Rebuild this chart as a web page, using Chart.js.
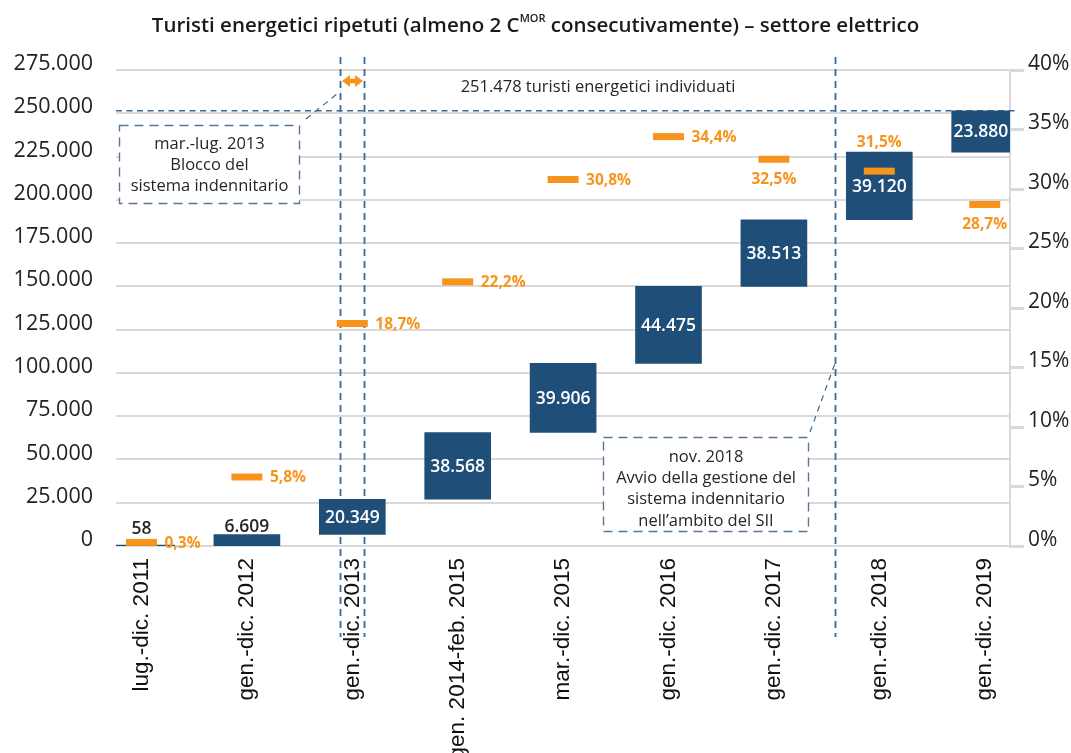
<!DOCTYPE html>
<html lang="it"><head><meta charset="utf-8">
<script src="https://cdn.jsdelivr.net/npm/chart.js@4.4.1/dist/chart.umd.min.js"></script>
<style>
html,body{margin:0;padding:0;background:#fff;}
#wrap{position:relative;width:1071px;height:753px;overflow:hidden;background:#fff;}
#title{position:absolute;left:0;top:10px;width:1071px;text-align:center;font-family:'Open Sans',sans-serif;font-weight:600;font-size:20.5px;color:#1a1a1a;white-space:nowrap;z-index:2;}
#title sup{font-size:11px;vertical-align:top;position:relative;top:0px;}
canvas{position:absolute;left:0;top:0;}
</style></head><body>
<div id="wrap">
<div id="title">Turisti energetici ripetuti (almeno 2 C<sup>MOR</sup> consecutivamente) – settore elettrico</div>
<canvas id="c" width="1071" height="753" style="width:1071px;height:753px"></canvas>
</div>
<script>
// ---- data ----
const categories = ['lug.-dic. 2011','gen.-dic. 2012','gen.-dic. 2013','gen. 2014-feb. 2015','mar.-dic. 2015','gen.-dic. 2016','gen.-dic. 2017','gen.-dic. 2018','gen.-dic. 2019'];
const newTourists = [58, 6609, 20349, 38568, 39906, 44475, 38513, 39120, 23880];
const sharePct = [0.3, 5.8, 18.7, 22.2, 30.8, 34.4, 32.5, 31.5, 28.7];
const leftTicks = [0, 25000, 50000, 75000, 100000, 125000, 150000, 175000, 200000, 225000, 250000, 275000];
const rightTicks = [0, 5, 10, 15, 20, 25, 30, 35, 40];
const blockPeriod2013 = [1.88, 2.11];   // mar.-lug. 2013 within the 2013 column (x units)
const siiStart2018 = 6.58;              // nov. 2018 marker (x units)
const note2013 = ['mar.-lug. 2013', 'Blocco del', 'sistema indennitario'];
const note2018 = ['nov. 2018', 'Avvio della gestione del', 'sistema indennitario', 'nell\u2019ambito del SII'];
const totalCaption = 'turisti energetici individuati';

// placement of the percentage labels (style only)
const pctLabelSide = ['right','right','right','right','right','right','below','above','below'];

// ---- helpers ----
const fmtIt = v => String(Math.round(v)).replace(/\B(?=(\d{3})+(?!\d))/g, '.');
const fmtPct = v => v.toFixed(1).replace('.', ',') + '%';

const floating = [];
let running = 0;
newTourists.forEach((v, i) => { floating.push({x: i, y: [running, running + v]}); running += v; });
const totalTourists = running;

const BLUE = '#1f4e79', ORANGE = '#f7941d', DASH = '#3d6890', GRID = '#d9d9d9';
const SANS = "'Open Sans', sans-serif";

const annotations = {
  id: 'annotations',
  beforeDatasetsDraw(chart) {
    const {ctx, chartArea: ca, scales} = chart;
    const x = scales.x, y = scales.y;
    ctx.save();
    // horizontal total line
    const yt = y.getPixelForValue(totalTourists);
    ctx.strokeStyle = DASH; ctx.lineWidth = 1.6; ctx.setLineDash([6, 4.5]);
    ctx.beginPath(); ctx.moveTo(ca.left, yt); ctx.lineTo(ca.right + 5, yt); ctx.stroke();
    // vertical lines
    ctx.lineWidth = 1.8; ctx.setLineDash([7, 5]);
    const vx = [blockPeriod2013[0], blockPeriod2013[1], siiStart2018].map(v => Math.round(x.getPixelForValue(v)) + 0.5);
    vx.forEach(px => { ctx.beginPath(); ctx.moveTo(px, ca.top - 13); ctx.lineTo(px, ca.bottom + 91); ctx.stroke(); });
    // connectors
    ctx.lineWidth = 1.2; ctx.setLineDash([6, 5]);
    ctx.beginPath(); ctx.moveTo(306, 119); ctx.lineTo(vx[0], 91); ctx.stroke();
    ctx.beginPath(); ctx.moveTo(810, 432); ctx.lineTo(vx[2], 362); ctx.stroke();
    // boxes
    const box = (l, t, r, b, lines, cx, y0, lh) => {
      ctx.setLineDash([]); ctx.fillStyle = '#fff'; ctx.fillRect(l, t, r - l, b - t);
      ctx.setLineDash([9, 6]); ctx.strokeStyle = '#56799a'; ctx.lineWidth = 1.4;
      ctx.strokeRect(l, t, r - l, b - t);
      ctx.fillStyle = '#262626'; ctx.font = '16.5px ' + SANS; ctx.textAlign = 'center'; ctx.textBaseline = 'middle';
      lines.forEach((s, i) => ctx.fillText(s, cx, y0 + i * lh));
    };
    box(119.5, 125.5, 299.5, 203.5, note2013, 209.5, 144, 21);
    box(603.5, 437.5, 808.5, 531.5, note2018, 706, 457, 21.3);
    // total caption
    ctx.fillStyle = '#262626'; ctx.font = '16.5px ' + SANS; ctx.textAlign = 'center'; ctx.textBaseline = 'middle';
    ctx.fillText(fmtIt(totalTourists) + ' ' + totalCaption, 598, 87);
    // orange double arrow
    const ay = 81, a0 = vx[0] + 1.5, a1 = vx[1] - 1.5;
    ctx.setLineDash([]); ctx.strokeStyle = ORANGE; ctx.fillStyle = ORANGE; ctx.lineWidth = 4.5;
    ctx.beginPath(); ctx.moveTo(a0 + 6, ay); ctx.lineTo(a1 - 6, ay); ctx.stroke();
    ctx.beginPath(); ctx.moveTo(a0, ay); ctx.lineTo(a0 + 8, ay - 6); ctx.lineTo(a0 + 8, ay + 6); ctx.closePath(); ctx.fill();
    ctx.beginPath(); ctx.moveTo(a1, ay); ctx.lineTo(a1 - 8, ay - 6); ctx.lineTo(a1 - 8, ay + 6); ctx.closePath(); ctx.fill();
    ctx.restore();
  }
};

const valueLabels = {
  id: 'valueLabels',
  afterDatasetsDraw(chart) {
    const {ctx, chartArea: ca} = chart;
    ctx.save();
    const barMeta = chart.getDatasetMeta(1);
    const lineMeta = chart.getDatasetMeta(0);
    ctx.font = '600 17.5px ' + SANS; ctx.textAlign = 'center';
    barMeta.data.forEach((el, i) => {
      const txt = fmtIt(newTourists[i]);
      const left = Math.max(el.x - el.width / 2, ca.left), right = Math.min(el.x + el.width / 2, ca.right);
      const cx = (left + right) / 2;
      const top = Math.min(el.y, el.base), bottom = Math.max(el.y, el.base);
      if (bottom - top < 25) {
        const mk = lineMeta.data[i];
        const clear = Math.abs(mk.y - top) < 10 ? Math.min(top, mk.y - 6) : top;
        ctx.fillStyle = '#262626'; ctx.textBaseline = 'bottom';
        ctx.fillText(txt, el.x, clear + 1);
      } else {
        ctx.fillStyle = '#fff'; ctx.textBaseline = 'middle';
        ctx.fillText(txt, cx, (top + bottom) / 2 + 1);
      }
    });
    ctx.font = '700 15.5px ' + SANS; ctx.fillStyle = ORANGE;
    lineMeta.data.forEach((el, i) => {
      const txt = fmtPct(sharePct[i]);
      const side = pctLabelSide[i];
      if (side === 'right') { ctx.textAlign = 'left'; ctx.textBaseline = 'middle'; ctx.fillText(txt, el.x + 23, el.y + 1); }
      else if (side === 'below') { ctx.textAlign = 'center'; ctx.textBaseline = 'middle'; ctx.fillText(txt, el.x, el.y + 20); }
      else { ctx.textAlign = 'center'; ctx.textBaseline = 'middle'; ctx.fillText(txt, el.x, el.y - 29); }
    });
    ctx.restore();
  }
};

Chart.defaults.font.family = SANS;
new Chart(document.getElementById('c'), {
  data: {
    datasets: [
      {type: 'line', label: 'Quota %', data: sharePct.map((v, i) => ({x: i, y: v})), yAxisID: 'y2',
       showLine: false, pointStyle: 'line', pointRadius: 15.5, pointHoverRadius: 15.5, pointBorderWidth: 7,
       pointHoverBorderWidth: 7, borderColor: ORANGE, backgroundColor: ORANGE, order: 0, clip: false},
      {type: 'bar', label: 'Turisti energetici', data: floating, yAxisID: 'y',
       backgroundColor: BLUE, barThickness: 66, borderWidth: 0, borderSkipped: false, order: 1}
    ]
  },
  options: {
    responsive: false, animation: false, devicePixelRatio: 1,
    layout: {padding: {top: 70, left: 0, right: 0, bottom: 0}},
    plugins: {legend: {display: false}, tooltip: {enabled: false}, title: {display: false}},
    scales: {
      x: {type: 'linear', min: -0.242, max: 8.24, offset: false,
          afterBuildTicks: s => { s.ticks = categories.map((c, i) => ({value: i})); },
          grid: {display: false, drawTicks: false, offset: false}, border: {display: false},
          ticks: {callback: v => categories[v], autoSkip: false, maxRotation: 90, minRotation: 90, padding: 12,
                  color: '#111', font: {family: "'Liberation Sans', Arial, sans-serif", size: 22.5}},
          afterFit: s => { s.height = 207; }},
      y: {position: 'left', min: 0, max: 275000,
          afterBuildTicks: s => { s.ticks = leftTicks.map(v => ({value: v})); },
          grid: {color: GRID, lineWidth: 2, drawTicks: false}, border: {display: false},
          ticks: {callback: v => fmtIt(v), padding: 23, labelOffset: -6, color: '#222', font: {size: 21.5}},
          afterFit: s => { s.width = 116; }},
      y2: {position: 'right', min: 0, max: 40,
          afterBuildTicks: s => { s.ticks = rightTicks.map(v => ({value: v})); },
          grid: {drawOnChartArea: false, color: GRID, lineWidth: 3, tickLength: 14},
          border: {display: true, color: GRID, width: 2},
          ticks: {callback: v => v + '%', padding: 4, labelOffset: -6, color: '#222', font: {size: 21}},
          afterFit: s => { s.width = 61; }}
    }
  },
  plugins: [annotations, valueLabels]
});
</script>
</body></html>
